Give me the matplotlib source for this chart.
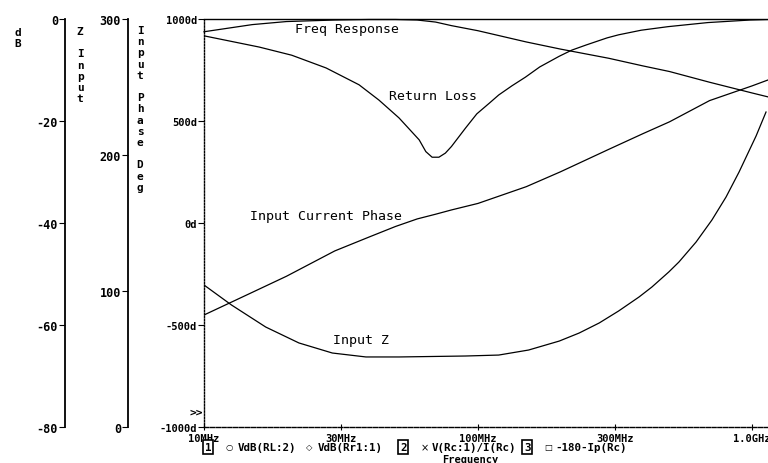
import matplotlib
matplotlib.use('Agg')
import matplotlib.pyplot as plt
from matplotlib.ticker import NullLocator

# values, frequency in MHz
freq = [10, 15, 20, 30, 40, 50, 60, 70, 80, 100, 150, 200, 300, 400, 500, 700, 1000, 1170]
freq_response_db = [-2.5, -1.1, -0.5, -0.2, -0.1, -0.1, -0.2, -0.6, -1.3, -2.3,
                    -4.5, -5.9, -7.7, -9.2, -10.3, -12.4, -14.5, -15.4]
input_current_phase = [-451, -340, -261, -137, -69, -17, 20, 43, 64, 96,
                       178, 251, 361, 438, 496, 600, 672, 706]

z_freq = [10, 12.6, 16.8, 22.2, 29.4, 39, 51.5, 90, 119, 153, 198, 234, 277, 326,
          387, 431, 497, 541, 625, 714, 804, 897, 1035, 1125]
input_z = [104.4, 89.7, 73.5, 61.8, 54.4, 51.5, 51.5, 52.2, 52.9, 56.6, 63.2, 69.1,
           76.5, 85.3, 95.6, 102.9, 114.0, 121.3, 136.0, 152.2, 169.1, 187.5, 214.0, 231.6]

rl_freq = [10, 15.9, 20.9, 27.9, 36.8, 43.5, 51.5, 61, 64.5, 68, 72, 76, 80, 90,
           99, 110, 119, 133, 149, 168, 198, 220, 248, 296, 326, 394, 494, 690, 984, 1150]
return_loss_db = [-3.3, -5.5, -7.1, -9.6, -12.9, -15.9, -19.4, -23.7, -26.0, -27.1,
                  -27.1, -26.3, -25.0, -21.4, -18.6, -16.5, -14.9, -13.1, -11.4, -9.4,
                  -7.3, -6.1, -5.1, -3.7, -3.1, -2.2, -1.5, -0.7, -0.2, -0.1]

x_ticks = [10, 31.6, 100, 316, 1000]
x_tick_labels = ['10MHz', '30MHz', '100MHz', '300MHz', '1.0GHz']
phase_ticks = [1000, 500, 0, -500, -1000]
phase_tick_labels = ['1000d', '500d', '0d', '-500d', '-1000d']
db_ticks = [0, -20, -40, -60, -80]
db_tick_labels = ['0', '-20', '-40', '-60', '-80']
z_ticks = [300, 200, 100, 0]
z_tick_labels = ['300', '200', '100', '0']

W, H = 768, 464
MONO = 'DejaVu Sans Mono'
PT = 72 / 100  # points per pixel at dpi 100


def fx(px):
    return px / W


def fy(py):
    return 1 - py / H


fig = plt.figure(figsize=(7.68, 4.64), dpi=100)
fig.patch.set_facecolor('white')

left, right, top, bottom = 204, 768, 20, 428
ax = fig.add_axes([fx(left), fy(bottom), fx(right - left), (bottom - top) / H])
ax.set_xscale('log')
ax.set_xlim(10, 10 ** (1 + (right - left) / 274))
ax.set_ylim(-1000, 1000)
ax.xaxis.set_minor_locator(NullLocator())
ax.set_xticks(x_ticks)
ax.set_xticklabels(x_tick_labels, fontfamily=MONO, fontweight='bold', fontsize=7.5)
ax.set_yticks(phase_ticks)
ax.set_yticklabels(phase_tick_labels, fontfamily=MONO, fontweight='bold', fontsize=7.5)
ax.tick_params(axis='x', direction='inout', length=5, pad=2)
ax.tick_params(axis='y', direction='out', length=4, pad=1)
ax.spines['right'].set_visible(False)
ax.spines['left'].set_linestyle((0, (1, 1.2)))
ax.spines['top'].set_linestyle((0, (3, 1)))
ax.spines['bottom'].set_linestyle((0, (3, 1.2)))
for s in ['left', 'top', 'bottom']:
    ax.spines[s].set_linewidth(1.0)


def side_axis(offset_px, lims, ticks, labels):
    a = ax.twinx()
    a.set_ylim(*lims)
    a.spines['left'].set_position(('outward', offset_px * PT))
    a.yaxis.set_ticks_position('left')
    a.set_yticks(ticks)
    a.set_yticklabels(labels, fontfamily=MONO, fontweight='bold', fontsize=8.5)
    a.tick_params(axis='y', direction='out', length=4, pad=1)
    for s in ['right', 'top', 'bottom']:
        a.spines[s].set_visible(False)
    a.spines['left'].set_visible(True)
    a.spines['left'].set_linewidth(1.3)
    return a


ax_db = side_axis(left - 65, (-80, 0), db_ticks, db_tick_labels)
ax_z = side_axis(left - 128, (0, 300), z_ticks, z_tick_labels)

# traces
lw = 0.9
ax_db.plot(freq, freq_response_db, color='black', lw=lw, clip_on=False)
ax_db.plot(rl_freq, return_loss_db, color='black', lw=lw)
ax_z.plot(z_freq, input_z, color='black', lw=lw)
ax.plot(freq, input_current_phase, color='black', lw=lw)

# trace labels
lbl = dict(fontfamily=MONO, fontsize=9.5, va='center', ha='left')
fig.text(fx(295), fy(30), 'Freq Response', **lbl)
fig.text(fx(389), fy(97), 'Return Loss', **lbl)
fig.text(fx(250), fy(217), 'Input Current Phase', **lbl)
fig.text(fx(333), fy(341), 'Input Z', **lbl)

# stacked axis titles
stk = dict(fontfamily=MONO, fontweight='bold', fontsize=8, va='top', ha='center',
           linespacing=1.15)
fig.text(fx(18), fy(28), 'd\nB', **stk)
fig.text(fx(80), fy(27), 'Z\n \nI\nn\np\nu\nt', **stk)
fig.text(fx(140), fy(26), 'I\nn\np\nu\nt\n \nP\nh\na\ns\ne\n \nD\ne\ng', **stk)

fig.text(fx(190), fy(413), '>>', fontfamily=MONO, fontweight='bold', fontsize=8,
         va='center', ha='left')

# legend row
leg = dict(fontfamily=MONO, fontweight='bold', fontsize=7.8, va='center', ha='left')
box = dict(boxstyle='square,pad=0.15', fc='white', ec='black', lw=1.2)
yl = fy(448)
fig.text(fx(205), yl, '1', bbox=box, **leg)
fig.text(fx(226), yl, '\u25cb', fontsize=6, va='center', ha='left')
fig.text(fx(238), yl, 'VdB(RL:2)', **leg)
fig.text(fx(306), yl, '\u25c7', fontsize=6, va='center', ha='left')
fig.text(fx(318), yl, 'VdB(Rr1:1)', **leg)
fig.text(fx(400), yl, '2', bbox=box, **leg)
fig.text(fx(421), yl, '\u00d7', fontsize=7, va='center', ha='left')
fig.text(fx(432), yl, 'V(Rc:1)/I(Rc)', **leg)
fig.text(fx(524), yl, '3', bbox=box, **leg)
fig.text(fx(544), yl, '\u25a1', fontsize=6, va='center', ha='left')
fig.text(fx(555), yl, '-180-Ip(Rc)', **leg)
fig.text(fx(470), fy(460), 'Frequency', fontfamily=MONO, fontweight='bold',
         fontsize=7.5, va='center', ha='center')

fig.savefig('out.png', dpi=100)
